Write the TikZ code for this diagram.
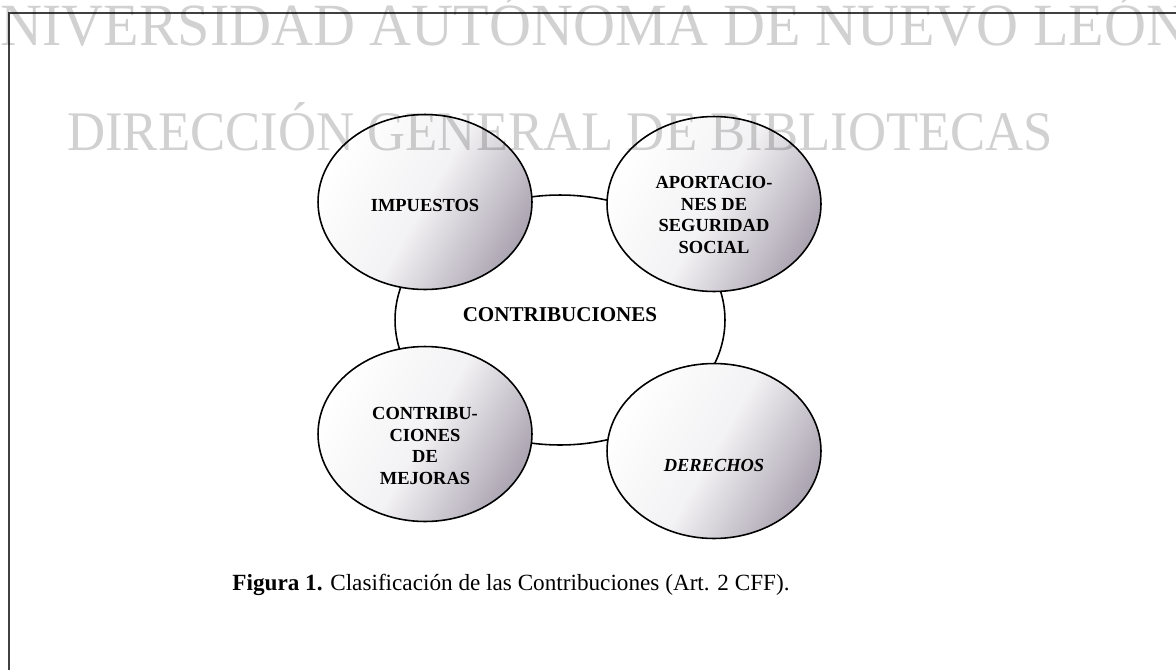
\documentclass[tikz,border=0pt]{standalone}
\usepackage{fontspec}
\setmainfont{Liberation Serif}
\usetikzlibrary{shapes.geometric}

\definecolor{shadegray}{RGB}{172,165,178}

\begin{document}
\begin{tikzpicture}[
    x=0.02cm, y=-0.02cm,
    bubble/.style={draw, ellipse, line width=0.9pt, inner sep=0pt,
      minimum width=4.28cm, minimum height=3.5cm,
      top color=white, bottom color=shadegray, middle color=white!85!shadegray,
      shading angle=60},
    btext/.style={font=\fontsize{10.5}{12.3}\selectfont\bfseries, align=center, inner sep=0pt},
    watermark/.style={black, opacity=0.18, inner sep=0pt, anchor=base west}
]
  \useasboundingbox (0,0) rectangle (1176,670);

  % Frame
  \draw[black!75, line width=1.1pt] (9,670) -- (9,13) -- (1176,13);

  % Centre
  \node[draw, ellipse, line width=0.9pt, fill=white, inner sep=0pt,
        minimum width=6.6cm, minimum height=5cm,
        label={[font=\fontsize{12}{14}\selectfont\bfseries, inner sep=0pt, yshift=0.11cm]center:CONTRIBUCIONES}]
        (contrib) at (560,320) {};

  % Four classes
  \node[bubble, label={[btext, yshift=-0.06cm]center:IMPUESTOS}] (impuestos) at (425,202) {};
  \node[bubble, label={[btext, yshift=-0.22cm]center:{APORTACIO-\\NES DE\\SEGURIDAD\\SOCIAL}}] (aportaciones) at (714,204) {};
  \node[bubble, label={[btext, yshift=-0.24cm]center:{CONTRIBU-\\CIONES\\DE\\MEJORAS}}] (mejoras) at (425,434) {};
  \node[bubble, label={[btext, font=\fontsize{10.5}{12.3}\selectfont\bfseries\itshape, yshift=-0.28cm]center:DERECHOS}] (derechos) at (714,451) {};

  % Caption
  \node[anchor=base, inner sep=0pt, font=\fontsize{13.2}{16}\selectfont] (caption) at (511,590)
    {\textbf{Figura 1.} Clasificación de las Contribuciones (Art. 2 CFF).};

  % Watermark
  \node[watermark, font=\fontsize{34.1}{40}\selectfont] (wmuni) at (-42,45)
    {\scalebox{0.97}[1]{UNIVERSIDAD AUTÓNOMA DE NUEVO LEÓN}};
  \node[watermark, font=\fontsize{31.8}{38}\selectfont] (wmdir) at (67,150)
    {\scalebox{0.944}[1]{DIRECCIÓN GENERAL DE BIBLIOTECAS}};
\end{tikzpicture}
\end{document}
